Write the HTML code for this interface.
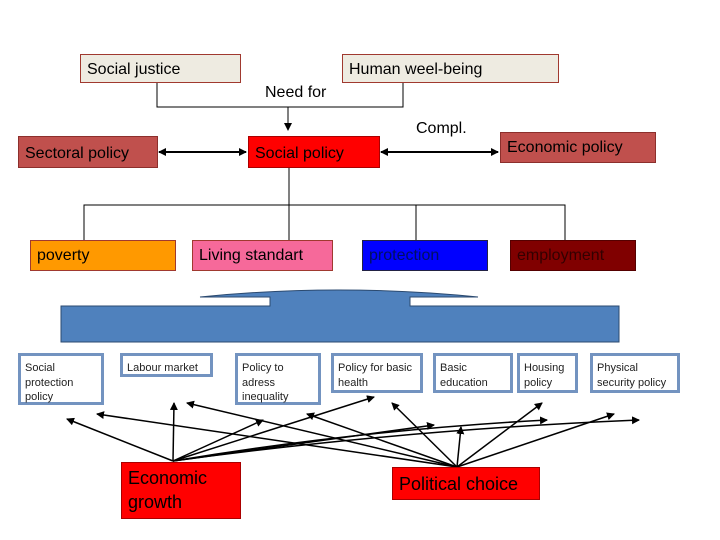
<!DOCTYPE html>
<html><head><meta charset="utf-8"><style>
body{margin:0;width:720px;height:540px;background:#fff;position:relative;overflow:hidden;font-family:"Liberation Sans",Arial,sans-serif}
.b{position:absolute;box-sizing:border-box;font-size:16px;line-height:1.2;padding:5px 0 0 6px}
.s{position:absolute;box-sizing:border-box;border:3px solid #7393c0;background:#fff;font-size:11px;line-height:14.5px;padding:5px 0 0 4px;color:#222}
.t{position:absolute;font-size:16px}
</style></head><body>
<svg width="720" height="540" style="position:absolute;left:0;top:0">
<defs><marker id="a" markerWidth="8" markerHeight="8" refX="7" refY="4" orient="auto" markerUnits="userSpaceOnUse"><path d="M0,0L8,4L0,8z" fill="#000"/></marker>
<marker id="a2" markerWidth="8" markerHeight="8" refX="1" refY="4" orient="auto" markerUnits="userSpaceOnUse"><path d="M8,0L0,4L8,8z" fill="#000"/></marker></defs>
<g stroke="#000" stroke-width="1" fill="none">
<path d="M157,82V107H403V82"/>
<path d="M288,107V130" marker-end="url(#a)"/>
<path d="M159,152H246" stroke-width="2" marker-start="url(#a2)" marker-end="url(#a)"/>
<path d="M381,152H498" stroke-width="2" marker-start="url(#a2)" marker-end="url(#a)"/>
<path d="M289,167V240M84,240V205H565V240M416,205V240"/>
</g>
<path d="M270,297H200Q338,283 478,297H410V306H619V342H61V306H270Z" fill="#4f81bd" stroke="#2b4a70" stroke-width="1"/>
<g stroke="#000" stroke-width="1.5" fill="none">
<path d="M173,461L67,419" marker-end="url(#a)"/>
<path d="M173,461L174,403" marker-end="url(#a)"/>
<path d="M173,461L263,420" marker-end="url(#a)"/>
<path d="M173,461L374,397" marker-end="url(#a)"/>
<path d="M173,461L434,425" marker-end="url(#a)"/>
<path d="M173,461Q360,430 547,420" marker-end="url(#a)"/>
<path d="M173,461Q400,430 639,420" marker-end="url(#a)"/>
<path d="M457,467L97,414" marker-end="url(#a)"/>
<path d="M457,467L187,403" marker-end="url(#a)"/>
<path d="M457,467L307,414" marker-end="url(#a)"/>
<path d="M457,467L392,403" marker-end="url(#a)"/>
<path d="M457,467L461,427" marker-end="url(#a)"/>
<path d="M457,467L542,403" marker-end="url(#a)"/>
<path d="M457,467L614,414" marker-end="url(#a)"/>
</g>
</svg>
<div class="b" style="left:80px;top:54px;width:161px;height:29px;background:#eeebe1;border:1px solid #a0392f">Social justice</div>
<div class="b" style="left:342px;top:54px;width:217px;height:29px;background:#eeebe1;border:1px solid #a0392f">Human weel-being</div>
<div class="t" style="left:265px;top:84px">Need for</div>
<div class="t" style="left:416px;top:120px">Compl.</div>
<div class="b" style="left:18px;top:136px;width:140px;height:32px;background:#c0504d;border:1px solid #8c2f2c;padding-top:7px">Sectoral policy</div>
<div class="b" style="left:248px;top:136px;width:132px;height:32px;background:#f00;border:1px solid #a00;padding-top:7px">Social policy</div>
<div class="b" style="left:500px;top:132px;width:156px;height:31px;background:#c0504d;border:1px solid #8c2f2c">Economic policy</div>
<div class="b" style="left:30px;top:240px;width:146px;height:31px;background:#ff9900;border:1px solid #a0392f">poverty</div>
<div class="b" style="left:192px;top:240px;width:141px;height:31px;background:#f6699a;border:1px solid #a0392f">Living standart</div>
<div class="b" style="left:362px;top:240px;width:126px;height:31px;background:#00f;border:1px solid #224;color:#001060">protection</div>
<div class="b" style="left:510px;top:240px;width:126px;height:31px;background:#800000;border:1px solid #500;color:#300">employment</div>
<div class="s" style="left:18px;top:353px;width:86px;height:52px">Social protection policy</div>
<div class="s" style="left:120px;top:353px;width:93px;height:24px">Labour market</div>
<div class="s" style="left:235px;top:353px;width:86px;height:52px">Policy to adress inequality</div>
<div class="s" style="left:331px;top:353px;width:92px;height:40px">Policy for basic health</div>
<div class="s" style="left:433px;top:353px;width:80px;height:40px">Basic education</div>
<div class="s" style="left:517px;top:353px;width:61px;height:40px">Housing policy</div>
<div class="s" style="left:590px;top:353px;width:90px;height:40px">Physical security policy</div>
<div class="b" style="left:121px;top:462px;width:120px;height:57px;background:#f00;border:1px solid #a00;font-size:18px;line-height:24px;padding-top:3px">Economic growth</div>
<div class="b" style="left:392px;top:467px;width:148px;height:33px;background:#f00;border:1px solid #a00;font-size:18px;padding-top:6px">Political choice</div>
</body></html>
